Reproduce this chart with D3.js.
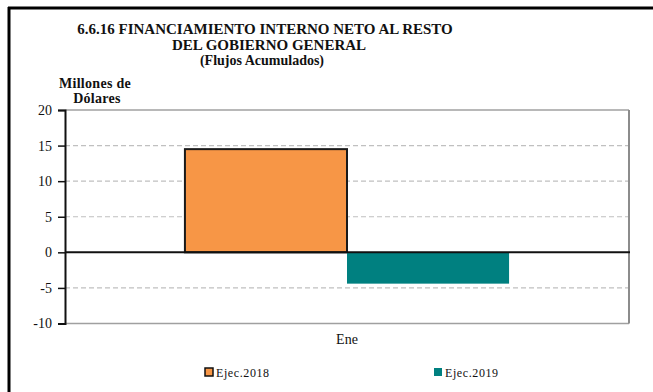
<!DOCTYPE html>
<html>
<head>
<meta charset="utf-8">
<script src="https://cdn.jsdelivr.net/npm/d3@7"></script>
<style>
  html, body { margin: 0; padding: 0; background: #fff; }
  svg { display: block; font-family: "Liberation Serif", "Times New Roman", serif; }
</style>
</head>
<body>
<svg id="chart" width="653" height="392"></svg>
<script>
// Chart data
const titleLines = ["6.6.16 FINANCIAMIENTO INTERNO NETO AL RESTO", "DEL GOBIERNO GENERAL", "(Flujos Acumulados)"];
const unitLines = ["Millones de", "Dólares"];
const categories = ["Ene"];
const seriesNames = ["Ejec.2018", "Ejec.2019"];
const series2018 = [14.5];
const series2019 = [-4.4];
const yTicks = [-10, -5, 0, 5, 10, 15, 20];
const colors = ["#F79646", "#008080"];

const svg = d3.select("#chart");
const W = 653, H = 392;
const plot = { left: 65, right: 629, top: 110, bottom: 323.5 };

// Outer frame (top and left edges)
svg.append("line").attr("x1", 8).attr("x2", W).attr("y1", 8).attr("y2", 8)
  .attr("stroke", "#000").attr("stroke-width", 3);
svg.append("line").attr("x1", 9).attr("x2", 9).attr("y1", 7).attr("y2", H)
  .attr("stroke", "#000").attr("stroke-width", 3);

// Title
const title = svg.append("text").attr("text-anchor", "middle")
  .attr("font-weight", "bold").attr("fill", "#111");
titleLines.forEach((t, i) => {
  title.append("tspan").attr("x", [265, 269, 262][i]).attr("y", 34 + i * 15.5)
    .attr("font-size", i === 2 ? 14 : 15).text(t);
});

// Unit label
const unit = svg.append("text").attr("text-anchor", "middle")
  .attr("font-weight", "bold").attr("font-size", 14).attr("fill", "#111");
unit.append("tspan").attr("x", 95).attr("y", 88).attr("letter-spacing", 0.3).text(unitLines[0]);
unit.append("tspan").attr("x", 97).attr("y", 103).attr("letter-spacing", 0.3).text(unitLines[1]);

// Scales
const y = d3.scaleLinear().domain([-10, 20]).range([plot.bottom, plot.top]);
const x0 = d3.scaleBand().domain(categories).range([plot.left, plot.right])
  .paddingInner(0).paddingOuter(0.37);
const x1 = d3.scaleBand().domain(seriesNames).range([0, x0.bandwidth()]).padding(0);

// Gridlines
svg.append("g").selectAll("line")
  .data(yTicks.filter(v => v !== 0 && v !== 20 && v !== -10))
  .join("line")
  .attr("x1", plot.left).attr("x2", plot.right)
  .attr("y1", d => y(d)).attr("y2", d => y(d))
  .attr("stroke", "#c0c0c0").attr("stroke-width", 1.2).attr("stroke-dasharray", "5,3");

// Plot area border (top, bottom, right)
svg.append("line").attr("x1", plot.left).attr("x2", plot.right)
  .attr("y1", y(20)).attr("y2", y(20)).attr("stroke", "#a0a0a0").attr("stroke-width", 1.5);
svg.append("line").attr("x1", plot.left).attr("x2", plot.right)
  .attr("y1", y(-10)).attr("y2", y(-10)).attr("stroke", "#a0a0a0").attr("stroke-width", 1.5);
svg.append("line").attr("x1", plot.right).attr("x2", plot.right)
  .attr("y1", y(20)).attr("y2", y(-10)).attr("stroke", "#8c8c8c").attr("stroke-width", 2);

// Bars
const g = svg.append("g").attr("transform", `translate(${x0(categories[0])},0)`);
const rows = seriesNames.map((s, i) => ({ name: s, value: [series2018, series2019][i][0], color: colors[i] }));
g.selectAll("rect").data(rows).join("rect")
  .attr("x", d => x1(d.name))
  .attr("width", x1.bandwidth())
  .attr("y", d => y(Math.max(0, d.value)))
  .attr("height", d => Math.abs(y(d.value) - y(0)))
  .attr("fill", d => d.color)
  .attr("stroke", (d, i) => i === 0 ? "#1a1a1a" : "none")
  .attr("stroke-width", 2);

// Zero line
svg.append("line").attr("x1", plot.left).attr("x2", plot.right + 1)
  .attr("y1", y(0)).attr("y2", y(0)).attr("stroke", "#111").attr("stroke-width", 2);

// Y axis
const yAxis = svg.append("g").attr("transform", `translate(${plot.left},0)`)
  .call(d3.axisLeft(y).tickValues(yTicks).tickSize(7).tickPadding(6).tickFormat(d => String(d)));
yAxis.select(".domain").attr("stroke", "#111").attr("stroke-width", 2);
yAxis.selectAll(".tick line").attr("stroke", "#111").attr("stroke-width", 1.5);
yAxis.selectAll(".tick text").attr("font-family", "Liberation Serif, serif")
  .attr("font-size", 14).attr("fill", "#111");

// Category label
svg.append("text").attr("x", x0(categories[0]) + x0.bandwidth() / 2).attr("y", 344)
  .attr("text-anchor", "middle").attr("font-size", 14).attr("fill", "#111").text(categories[0]);

// Legend
const legendX = [205, 434];
seriesNames.forEach((s, i) => {
  const lg = svg.append("g").attr("transform", `translate(${legendX[i]},368)`);
  lg.append("rect").attr("x", 0).attr("y", 0).attr("width", 8).attr("height", 8)
    .attr("fill", colors[i])
    .attr("stroke", i === 0 ? "#111" : "none").attr("stroke-width", 1.5);
  lg.append("text").attr("x", 11).attr("y", 9).attr("font-size", 12)
    .attr("letter-spacing", 0.6).attr("fill", "#111").text(s);
});
</script>
</body>
</html>
